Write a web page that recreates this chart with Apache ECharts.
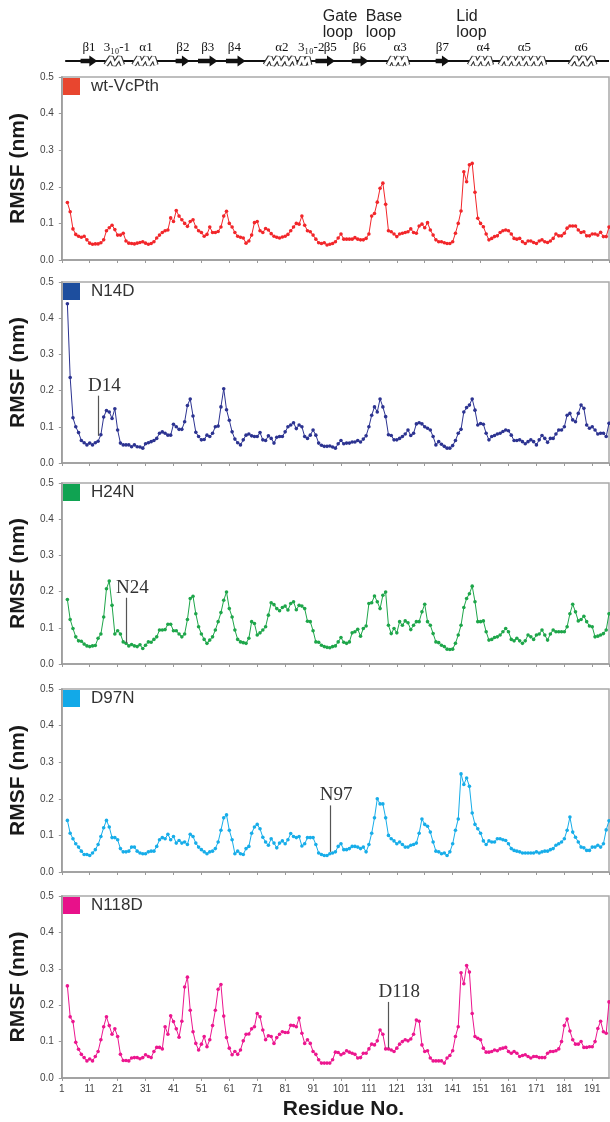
<!DOCTYPE html>
<html><head><meta charset="utf-8">
<script src="https://cdn.jsdelivr.net/npm/echarts@6/dist/echarts.min.js"></script>
<style>html,body{margin:0;padding:0;background:#fff}#c{width:610px;height:1122px}</style>
</head><body><div id="c"></div>
<script>
// ---------------- data ----------------
const firstResidue = 3;
const xTickLabels = [1, 11, 21, 31, 41, 51, 61, 71, 81, 91, 101, 111, 121, 131, 141, 151, 161, 171, 181, 191];
const yTickLabels = ['0.0', '0.1', '0.2', '0.3', '0.4', '0.5'];
const panelNames = ['wt-VcPth', 'N14D', 'H24N', 'D97N', 'N118D'];

const wt = [
0.157,0.132,0.085,0.070,0.065,0.062,0.065,0.055,0.046,0.043,
0.044,0.044,0.047,0.055,0.080,0.088,0.095,0.083,0.068,0.068,
0.073,0.052,0.046,0.045,0.044,0.046,0.048,0.050,0.046,0.043,
0.045,0.050,0.060,0.068,0.075,0.080,0.082,0.115,0.105,0.135,
0.120,0.110,0.100,0.092,0.105,0.110,0.090,0.080,0.075,0.065,
0.070,0.090,0.075,0.075,0.078,0.090,0.120,0.133,0.100,0.090,
0.075,0.065,0.062,0.060,0.046,0.052,0.068,0.102,0.105,0.080,
0.075,0.086,0.082,0.072,0.065,0.062,0.060,0.063,0.065,0.070,
0.080,0.090,0.100,0.098,0.120,0.095,0.080,0.077,0.068,0.057,
0.047,0.045,0.047,0.041,0.043,0.045,0.050,0.060,0.071,0.057,
0.057,0.057,0.057,0.061,0.057,0.055,0.055,0.059,0.071,0.120,
0.127,0.158,0.196,0.210,0.152,0.080,0.077,0.071,0.064,0.071,
0.073,0.075,0.077,0.085,0.075,0.073,0.093,0.098,0.088,0.102,
0.082,0.068,0.055,0.050,0.050,0.047,0.045,0.045,0.050,0.073,
0.100,0.134,0.241,0.214,0.260,0.264,0.185,0.114,0.100,0.091,
0.071,0.055,0.059,0.064,0.066,0.075,0.080,0.082,0.080,0.071,
0.059,0.057,0.059,0.050,0.045,0.052,0.052,0.048,0.045,0.052,
0.055,0.050,0.048,0.052,0.059,0.071,0.066,0.066,0.073,0.087,
0.093,0.093,0.093,0.082,0.075,0.077,0.066,0.066,0.071,0.071,
0.068,0.076,0.064,0.064,0.090];

const n14d = [
0.440,0.236,0.125,0.100,0.084,0.062,0.056,0.050,0.055,0.050,
0.056,0.060,0.078,0.127,0.145,0.141,0.123,0.150,0.091,0.055,
0.050,0.050,0.050,0.045,0.050,0.045,0.044,0.041,0.053,0.056,
0.059,0.062,0.068,0.082,0.086,0.082,0.077,0.077,0.107,0.100,
0.093,0.093,0.114,0.159,0.177,0.130,0.085,0.073,0.064,0.065,
0.077,0.073,0.082,0.100,0.102,0.155,0.205,0.147,0.118,0.086,
0.066,0.056,0.050,0.064,0.077,0.080,0.075,0.073,0.073,0.084,
0.064,0.062,0.075,0.068,0.055,0.071,0.073,0.073,0.086,0.100,
0.105,0.111,0.095,0.105,0.100,0.073,0.068,0.077,0.091,0.077,
0.055,0.049,0.046,0.046,0.047,0.044,0.041,0.053,0.062,0.053,
0.055,0.055,0.058,0.058,0.062,0.058,0.066,0.075,0.100,0.132,
0.155,0.141,0.177,0.155,0.128,0.078,0.076,0.064,0.064,0.068,
0.073,0.080,0.091,0.076,0.082,0.108,0.111,0.108,0.100,0.096,
0.091,0.073,0.050,0.059,0.052,0.046,0.041,0.041,0.048,0.062,
0.082,0.093,0.141,0.153,0.160,0.177,0.146,0.105,0.109,0.107,
0.082,0.064,0.073,0.076,0.080,0.082,0.087,0.091,0.089,0.077,
0.062,0.062,0.064,0.059,0.053,0.059,0.064,0.059,0.050,0.064,
0.076,0.068,0.057,0.068,0.068,0.080,0.091,0.091,0.100,0.132,
0.137,0.119,0.114,0.137,0.160,0.151,0.105,0.096,0.100,0.091,
0.080,0.082,0.082,0.073,0.110];

const h24n = [
0.178,0.123,0.098,0.075,0.064,0.063,0.055,0.050,0.048,0.050,
0.051,0.071,0.083,0.130,0.208,0.229,0.162,0.083,0.092,0.083,
0.061,0.057,0.050,0.054,0.050,0.048,0.053,0.043,0.052,0.061,
0.060,0.068,0.075,0.094,0.094,0.095,0.110,0.110,0.092,0.092,
0.083,0.075,0.083,0.123,0.181,0.187,0.139,0.103,0.083,0.068,
0.057,0.066,0.075,0.094,0.117,0.142,0.176,0.199,0.153,0.130,
0.094,0.068,0.061,0.059,0.057,0.071,0.117,0.112,0.080,0.086,
0.094,0.103,0.135,0.169,0.164,0.153,0.147,0.156,0.160,0.149,
0.167,0.172,0.150,0.162,0.160,0.153,0.118,0.117,0.092,0.061,
0.060,0.052,0.048,0.046,0.045,0.048,0.050,0.061,0.073,0.060,
0.057,0.061,0.086,0.089,0.096,0.077,0.098,0.105,0.167,0.169,
0.188,0.172,0.153,0.190,0.199,0.107,0.084,0.098,0.086,0.117,
0.107,0.119,0.114,0.095,0.107,0.117,0.117,0.144,0.165,0.117,
0.107,0.084,0.061,0.059,0.052,0.048,0.041,0.040,0.041,0.057,
0.080,0.107,0.156,0.181,0.194,0.215,0.172,0.117,0.117,0.119,
0.089,0.066,0.068,0.073,0.075,0.080,0.089,0.098,0.089,0.068,
0.064,0.071,0.064,0.057,0.064,0.080,0.075,0.068,0.080,0.083,
0.094,0.080,0.066,0.083,0.094,0.089,0.089,0.089,0.089,0.103,
0.139,0.165,0.144,0.119,0.123,0.132,0.117,0.105,0.103,0.075,
0.077,0.080,0.084,0.094,0.139];

const d97n = [
0.141,0.106,0.091,0.077,0.068,0.057,0.048,0.048,0.045,0.052,
0.061,0.075,0.097,0.121,0.141,0.123,0.094,0.094,0.088,0.064,
0.055,0.055,0.057,0.068,0.068,0.057,0.052,0.050,0.050,0.055,
0.057,0.057,0.070,0.088,0.094,0.091,0.103,0.088,0.097,0.079,
0.086,0.079,0.082,0.075,0.103,0.097,0.079,0.068,0.061,0.055,
0.050,0.055,0.057,0.064,0.082,0.114,0.148,0.156,0.114,0.088,
0.050,0.057,0.050,0.048,0.064,0.070,0.106,0.123,0.130,0.118,
0.095,0.082,0.073,0.091,0.079,0.066,0.079,0.085,0.077,0.088,
0.105,0.097,0.094,0.097,0.071,0.077,0.094,0.094,0.094,0.075,
0.052,0.048,0.045,0.045,0.050,0.052,0.055,0.070,0.077,0.061,
0.061,0.064,0.070,0.070,0.068,0.064,0.068,0.055,0.075,0.106,
0.148,0.200,0.186,0.186,0.148,0.100,0.091,0.085,0.077,0.082,
0.075,0.068,0.068,0.073,0.075,0.079,0.106,0.145,0.130,0.125,
0.109,0.082,0.057,0.055,0.050,0.052,0.045,0.055,0.077,0.114,
0.145,0.268,0.239,0.257,0.234,0.161,0.130,0.118,0.106,0.085,
0.075,0.085,0.082,0.082,0.091,0.091,0.088,0.086,0.077,0.064,
0.059,0.057,0.055,0.052,0.052,0.052,0.052,0.052,0.055,0.052,
0.055,0.057,0.057,0.061,0.064,0.073,0.077,0.082,0.091,0.114,
0.150,0.109,0.095,0.082,0.068,0.066,0.059,0.059,0.068,0.068,
0.073,0.068,0.077,0.115,0.140];

const n118d = [
0.253,0.168,0.155,0.098,0.079,0.065,0.056,0.047,0.052,0.047,
0.059,0.073,0.105,0.141,0.168,0.144,0.120,0.135,0.114,0.065,
0.048,0.048,0.047,0.055,0.056,0.056,0.053,0.056,0.064,0.059,
0.056,0.073,0.084,0.084,0.080,0.141,0.120,0.171,0.155,0.135,
0.112,0.156,0.250,0.277,0.186,0.127,0.095,0.077,0.093,0.114,
0.086,0.105,0.144,0.186,0.244,0.257,0.170,0.111,0.082,0.064,
0.073,0.065,0.077,0.102,0.120,0.121,0.135,0.141,0.177,0.168,
0.132,0.105,0.116,0.114,0.095,0.111,0.120,0.127,0.125,0.125,
0.145,0.144,0.141,0.165,0.123,0.095,0.105,0.095,0.073,0.065,
0.050,0.041,0.041,0.041,0.041,0.050,0.071,0.070,0.064,0.068,
0.075,0.071,0.068,0.065,0.055,0.056,0.068,0.068,0.080,0.093,
0.091,0.102,0.132,0.120,0.080,0.080,0.077,0.073,0.082,0.093,
0.100,0.105,0.102,0.107,0.120,0.159,0.156,0.091,0.073,0.075,
0.055,0.047,0.047,0.047,0.047,0.041,0.055,0.062,0.075,0.114,
0.141,0.289,0.259,0.309,0.291,0.177,0.114,0.109,0.105,0.082,
0.071,0.071,0.073,0.077,0.075,0.080,0.082,0.084,0.073,0.068,
0.073,0.068,0.059,0.062,0.064,0.059,0.055,0.059,0.059,0.056,
0.056,0.056,0.068,0.073,0.073,0.075,0.080,0.100,0.144,0.162,
0.129,0.105,0.093,0.093,0.100,0.084,0.084,0.086,0.086,0.100,
0.136,0.156,0.127,0.123,0.209];

// mutation-site annotations
const annoPanel = [1, 2, 3, 4];
const annoResidue = [14, 24, 97, 118];
const annoText = ['D14', 'N24', 'N97', 'D118'];
const annoLow = [0.075, 0.058, 0.055, 0.083];
const annoHigh = [0.186, 0.183, 0.182, 0.209];

// secondary structure (residue ranges)
const ssNames = ['β1', '3₁₀-1', 'α1', 'β2', 'β3', 'β4', 'α2', '3₁₀-2', 'β5', 'β6', 'α3', 'β7', 'α4', 'α5', 'α6'];
const ssKinds = ['strand','helix','helix','strand','strand','strand','helix','helix','strand','strand','helix','strand','helix','helix','helix'];
const ssStart = [8, 17, 27, 42, 50, 60, 74, 86, 92, 105, 118, 135, 147, 158, 183];
const ssEnd   = [14, 23, 35, 47, 57, 67, 85, 90, 99, 111, 125, 140, 155, 174, 192];
const ssLabelAt = [11, 21, 31.4, 44.6, 53.5, 63, 80, 90.5, 97.3, 107.7, 122.3, 137.4, 152, 166.7, 187];
const ssLineRange = [2.5, 197];
const loopNames = ['Gate\nloop', 'Base\nloop', 'Lid\nloop'];
const loopAt = [94.6, 110, 142.4];

// ---------------- styling / layout ----------------
const seriesValues = [wt, n14d, h24n, d97n, n118d];
const lineColors = ['#f2262a', '#2c3391', '#1ea64a', '#17ade9', '#ec168f'];
const legendColors = ['#e8462f', '#1d4e9e', '#10a352', '#12a9e8', '#e8118a'];
const panelTops = [77, 282, 483, 689, 896];
const panelHeights = [183, 181, 181, 183, 182];
const X_MIN = 1, X_MAX = 197;
const SANS = '"Liberation Sans", Arial, sans-serif';
const SERIF = '"Liberation Serif", "Times New Roman", serif';

const grids = [], xAxes = [], yAxes = [], series = [], legends = [];

panelTops.forEach((top, i) => {
  grids.push({ left: 61, right: 1, top: top, height: panelHeights[i], show: true,
    borderColor: '#a9a9a9', borderWidth: 1.5, backgroundColor: 'transparent' });
  const last = i === panelTops.length - 1;
  xAxes.push({
    type: 'value', gridIndex: i, min: X_MIN, max: X_MAX, interval: 10,
    axisLine: { show: true, onZero: false, lineStyle: { color: '#9a9a9a', width: 1.5 } },
    axisTick: { show: true, length: 3, lineStyle: { color: '#9a9a9a', width: 1 } },
    axisLabel: { show: last, fontSize: 10, color: '#444', margin: 6, fontFamily: SANS,
      showMaxLabel: false,
      formatter: v => (xTickLabels.indexOf(v) >= 0 ? String(v) : '') },
    splitLine: { show: false },
    name: last ? 'Residue No.' : '', nameLocation: 'middle', nameGap: 21,
    nameTextStyle: { fontSize: 21, fontWeight: 'bold', color: '#1a1a1a', fontFamily: SANS, padding: [0, 0, 0, 16] }
  });
  yAxes.push({
    type: 'value', gridIndex: i, min: 0, max: 0.5, interval: 0.1,
    axisLine: { show: true, lineStyle: { color: '#9a9a9a', width: 1.5 } },
    axisTick: { show: true, length: 3, lineStyle: { color: '#9a9a9a', width: 1 } },
    axisLabel: { fontSize: 10, color: '#444', margin: 8, fontFamily: SANS,
      formatter: v => yTickLabels[Math.round(v * 10)] },
    splitLine: { show: false },
    name: 'RMSF (nm)', nameLocation: 'middle', nameGap: 26,
    nameTextStyle: { fontSize: 21, fontWeight: 'bold', color: '#1a1a1a', fontFamily: SANS }
  });
  legends.push({
    data: [{ name: panelNames[i], itemStyle: { color: legendColors[i] } }],
    left: 63, top: top + 1, icon: 'rect', itemWidth: 17, itemHeight: 17, padding: 0,
    selectedMode: false,
    textStyle: { fontSize: 17, color: '#333', fontFamily: SANS, padding: [0, 0, 0, 6] }
  });
  const vals = seriesValues[i];
  const s = {
    type: 'line', name: panelNames[i], xAxisIndex: i, yAxisIndex: i,
    data: vals.map((v, k) => [firstResidue + k, v]),
    symbol: 'circle', symbolSize: 3.6, showSymbol: true, showAllSymbol: true,
    lineStyle: { width: 1, color: lineColors[i] },
    itemStyle: { color: lineColors[i] },
    animation: false, z: 3, clip: false
  };
  const a = annoPanel.indexOf(i);
  if (a >= 0) {
    s.markLine = {
      silent: true, symbol: ['none', 'none'], animation: false,
      lineStyle: { color: '#555', width: 1.2, type: 'solid' },
      label: { show: false },
      data: [[{ coord: [annoResidue[a], annoLow[a]] }, { coord: [annoResidue[a], annoHigh[a]] }]]
    };
    s.markPoint = {
      silent: true, animation: false, symbol: 'circle', symbolSize: 1,
      itemStyle: { color: 'rgba(0,0,0,0)' },
      label: { show: true, position: 'top', distance: 0, align: 'left', offset: [-10, 0],
        formatter: annoText[a], fontSize: 19, fontFamily: SERIF, color: '#333' },
      data: [{ coord: [annoResidue[a], annoHigh[a]] }]
    };
  }
  series.push(s);
});

// secondary-structure strip
const SS = panelTops.length;
grids.push({ left: 61, right: 1, top: 41, height: 40 });
xAxes.push({ type: 'value', gridIndex: SS, min: X_MIN, max: X_MAX, show: false });
yAxes.push({ type: 'value', gridIndex: SS, min: 0, max: 1, show: false });

series.push({
  type: 'line', xAxisIndex: SS, yAxisIndex: SS, silent: true, animation: false,
  data: [[ssLineRange[0], 0.5], [ssLineRange[1], 0.5]], symbol: 'none',
  lineStyle: { color: '#111', width: 2.2 }, z: 1
});

function renderSS(params, api) {
  const i = params.dataIndex;
  const a = api.coord([api.value(0), 0.5]);
  const b = api.coord([api.value(1), 0.5]);
  const l = api.coord([api.value(2), 0.5]);
  const x0 = a[0], x1 = b[0], y = a[1];
  const children = [];
  if (ssKinds[i] === 'strand') {
    const hl = Math.min(8, (x1 - x0) * 0.55);
    children.push({ type: 'polygon', shape: { points: [[x0, y - 2.2], [x1 - hl, y - 2.2], [x1 - hl, y - 5.5], [x1, y], [x1 - hl, y + 5.5], [x1 - hl, y + 2.2], [x0, y + 2.2]] },
      style: { fill: '#111' } });
  } else {
    children.push({ type: 'rect', shape: { x: x0, y: y - 2, width: x1 - x0, height: 4 }, style: { fill: '#fff' } });
    const turns = Math.max(2, Math.round((x1 - x0) / 7.5));
    const w = (x1 - x0) / turns;
    const pts = [[x0, y + 4]];
    for (let k = 0; k < turns; k++) {
      pts.push([x0 + k * w + w * 0.65, y - 4]);
      pts.push([x0 + (k + 1) * w, y + 4]);
    }
    children.push({ type: 'polyline', shape: { points: pts }, style: { stroke: '#333', lineWidth: 5.2, fill: null, lineJoin: 'bevel' } });
    children.push({ type: 'polyline', shape: { points: pts }, style: { stroke: '#fff', lineWidth: 3, fill: null, lineJoin: 'bevel' } });
  }
  children.push({ type: 'text', style: { text: ssNames[i], x: l[0], y: y - 7, align: 'center', verticalAlign: 'bottom',
    font: '13px ' + SERIF, fill: '#111' } });
  return { type: 'group', children };
}

series.push({
  type: 'custom', xAxisIndex: SS, yAxisIndex: SS, silent: true, animation: false, z: 2, clip: false,
  data: ssStart.map((s, i) => [s, ssEnd[i], ssLabelAt[i]]),
  encode: { x: [0, 1, 2] },
  renderItem: renderSS
});

series.push({
  type: 'custom', xAxisIndex: SS, yAxisIndex: SS, silent: true, animation: false, z: 2, clip: false,
  data: loopAt.map(r => [r]),
  encode: { x: 0 },
  renderItem: (params, api) => {
    const p = api.coord([api.value(0), 0.5]);
    return { type: 'text', style: { text: loopNames[params.dataIndex], x: p[0], y: p[1] - 20,
      align: 'left', verticalAlign: 'bottom', font: '16px ' + SANS, lineHeight: 16, fill: '#222' } };
  }
});

const chart = echarts.init(document.getElementById('c'), null, { renderer: 'canvas' });
chart.setOption({
  animation: false, backgroundColor: '#fff',
  grid: grids, xAxis: xAxes, yAxis: yAxes, legend: legends, series: series
});
</script></body></html>
